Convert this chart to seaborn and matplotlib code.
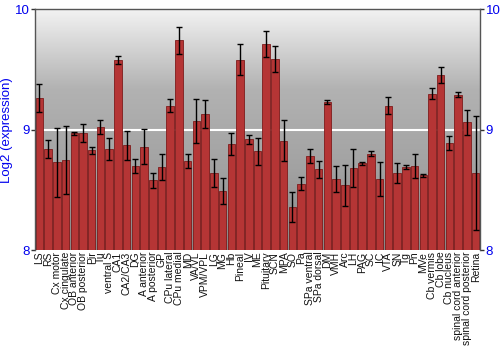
import matplotlib
matplotlib.use("Agg")
import matplotlib.pyplot as plt
import seaborn as sns
import numpy as np
import pandas as pd

categories = ["LS", "RS", "Cx motor", "Cx cingulate", "OB anterior", "OB posterior", "Pir", "Tu",
              "ventral S", "CA1", "CA2/CA3", "DG", "A anterior", "A posterior", "GP", "CPu lateral",
              "CPu medial", "MD", "VA/VL", "VPM/VPL", "LG", "MG", "Hb", "Pineal", "IV", "ME",
              "Pituitary", "SCN", "MPA", "SO", "Pa", "SPa ventral", "SPa dorsal", "DM", "VMH", "Arc",
              "LH", "PAG", "SC", "IC", "VTA", "SN", "Tg", "Pn", "MVe", "Cb vermis", "Cb lobe",
              "Cb nucleus", "spinal cord anterior", "spinal cord posterior", "Retina"]
values = [9.26, 8.84, 8.73, 8.75, 8.97, 8.97, 8.83, 9.02, 8.84, 9.58, 8.87, 8.70, 8.86, 8.58,
          8.69, 9.20, 9.74, 8.74, 9.07, 9.13, 8.64, 8.49, 8.88, 9.58, 8.92, 8.82, 9.71, 9.59,
          8.91, 8.36, 8.55, 8.78, 8.67, 9.23, 8.59, 8.54, 8.68, 8.72, 8.80, 8.59, 9.20, 8.64,
          8.69, 8.70, 8.62, 9.30, 9.45, 8.89, 9.29, 9.06, 8.64]
errors = [0.115, 0.076, 0.287, 0.28, 0.014, 0.073, 0.03, 0.058, 0.094, 0.035, 0.119, 0.06, 0.142,
          0.062, 0.106, 0.057, 0.113, 0.06, 0.182, 0.12, 0.113, 0.11, 0.093, 0.127, 0.035, 0.113,
          0.106, 0.108, 0.167, 0.123, 0.054, 0.06, 0.072, 0.014, 0.109, 0.17, 0.157, 0.011, 0.02,
          0.138, 0.073, 0.086, 0.02, 0.1, 0.011, 0.046, 0.066, 0.058, 0.02, 0.106, 0.475]
y_ticks = [8, 9, 10]

df = pd.DataFrame({"region": categories, "value": values, "err": errors})

sns.set_style("white")
plt.rcParams["font.family"] = ["Liberation Sans", "DejaVu Sans"]

fig = plt.figure(figsize=(5, 3.5), dpi=100)
ax = fig.add_axes([0.07, 0.285, 0.89, 0.689])

# gradient background (bottom dark -> top light)
grad = np.linspace(0, 1, 256).reshape(-1, 1)
cmap = matplotlib.colors.LinearSegmentedColormap.from_list(
    "bg", ["#878787", "#a2a2a2", "#b2b2b2", "#f3f3f3"])
ax.imshow(grad, aspect="auto", cmap=cmap, origin="lower", extent=[0, 1, 0, 1],
          transform=ax.transAxes, zorder=0)
ax.axhline(9, color="white", lw=1.5, zorder=0.5)

sns.barplot(data=df, x="region", y="value", color="#b53535", saturation=1, width=0.86,
            edgecolor="#7e1b1b", linewidth=0.6, errorbar=None, ax=ax, zorder=2)
ax.errorbar(np.arange(len(categories)), df["value"], yerr=df["err"], fmt="none",
            ecolor="black", elinewidth=1, capsize=2, capthick=1, zorder=3)

ax.set_ylim(8, 10)
ax.set_xlim(-0.5, len(categories) - 0.5)
ax.set_yticks(y_ticks)
ax.set_yticklabels([str(t) for t in y_ticks])
ax.tick_params(axis="y", colors="#333333", labelcolor="#0000ee", labelsize=9.5, left=True, right=True,
               labelleft=True, labelright=True, length=3, width=1, pad=1)
ax.tick_params(axis="x", labelsize=7.5, rotation=90, length=0, pad=1)
ax.set_xlabel("")
ax.set_ylabel("Log2 (expression)", color="#0000ee", fontsize=9.5, labelpad=1)
for lbl in ax.get_xticklabels():
    lbl.set_color("#111111")
for side in ["top", "left", "right"]:
    ax.spines[side].set_visible(True)
    ax.spines[side].set_color("#555555")
    ax.spines[side].set_linewidth(1)
ax.spines["bottom"].set_visible(False)

fig.savefig("out.png", dpi=100)
